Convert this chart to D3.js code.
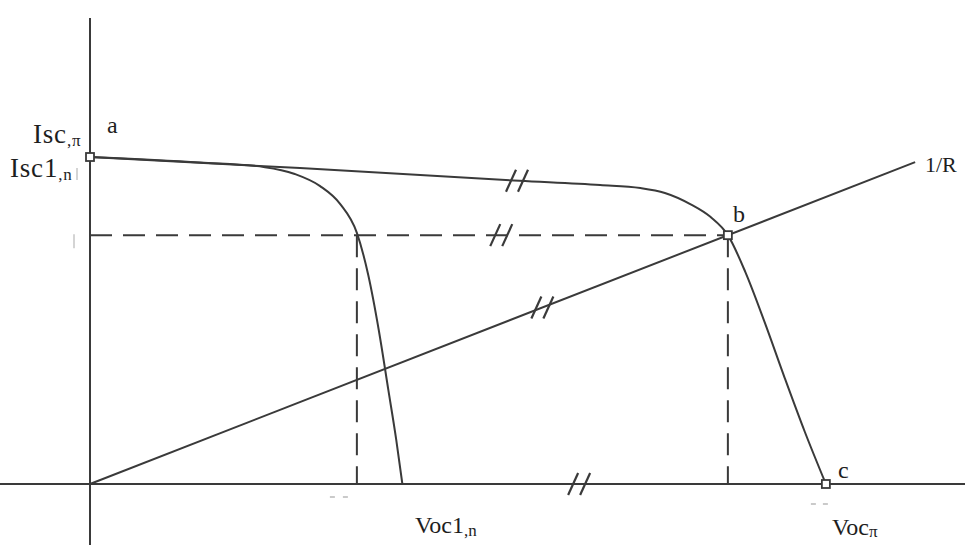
<!DOCTYPE html>
<html>
<head>
<meta charset="utf-8">
<script src="https://cdn.jsdelivr.net/npm/d3@7"></script>
<style>
  html, body { margin: 0; padding: 0; background: #fff; }
  svg { display: block; }
  text { font-family: "Liberation Serif", "DejaVu Serif", serif; fill: #1e1e1e; }
</style>
</head>
<body>
<svg id="chart" width="965" height="545"></svg>
<script>
// I-V curves of a single cell (1,n) and of the whole string (π),
// the 1/R load line, and the operating point b.
const cellCurve = [
  [0, 100], [12.6, 98.3], [20, 96.9], [23.4, 94.8], [26.3, 91.1], [28.6, 85.6],
  [30.5, 76.8], [31.8, 63.9], [33, 47.1], [34.1, 28.7], [35, 13.5], [35.7, 0]
];
const stringCurve = [
  [0, 100], [24, 96.6], [49.1, 92.7], [58.3, 91.4], [62.9, 90.5], [65.7, 89.0],
  [68.6, 85.6], [70.9, 81.7], [72.9, 76.1], [74.9, 64.8], [77.1, 49.5],
  [79.4, 32.4], [81.7, 15.9], [84.1, 0]
];
const pointA = [0, 100];
const pointB = [72.9, 76.1];
const pointC = [84.1, 0];
const cellOperatingV = 30.5;
const loadLineEnd = 94.3;
// Positions (along x) of the "//" break marks on each line
const breaks = { top: 48.8, dashed: 47, load: 51.7, axis: 55.9 };

const svg = d3.select("#chart");
const x = d3.scaleLinear().domain([0, 100]).range([90, 965]);
const y = d3.scaleLinear().domain([0, 100]).range([484, 157]);

const ink = "#3a3a3a";
const faint = "#b8b8b8";
const lineGen = d3.line().x(d => x(d[0])).y(d => y(d[1])).curve(d3.curveMonotoneX);

// axes
svg.append("line")
  .attr("x1", x(0)).attr("x2", x(0))
  .attr("y1", 18).attr("y2", 545)
  .attr("stroke", ink).attr("stroke-width", 2);
svg.append("line")
  .attr("x1", 0).attr("x2", 965)
  .attr("y1", y(0)).attr("y2", y(0))
  .attr("stroke", ink).attr("stroke-width", 2.2);

// light pencil ticks
svg.append("line").attr("x1", 77).attr("x2", 77).attr("y1", 168).attr("y2", 180)
  .attr("stroke", faint).attr("stroke-width", 1.2);
svg.append("line").attr("x1", 74).attr("x2", 74).attr("y1", y(pointB[1]) - 1).attr("y2", y(pointB[1]) + 13)
  .attr("stroke", faint).attr("stroke-width", 1.2);
[[x(cellOperatingV) - 27, 497], [x(cellOperatingV) - 14, 497], [x(pointC[0]) - 15, 504], [x(pointC[0]) - 3, 504]]
  .forEach(([px, py]) => {
    svg.append("line").attr("x1", px).attr("x2", px + 5).attr("y1", py).attr("y2", py)
      .attr("stroke", faint).attr("stroke-width", 1.5);
  });

// dashed guides to the operating point
const dash = "22,11";
svg.append("line")
  .attr("x1", x(0)).attr("x2", x(pointB[0]))
  .attr("y1", y(pointB[1])).attr("y2", y(pointB[1]))
  .attr("stroke", ink).attr("stroke-width", 2).attr("stroke-dasharray", dash);
[cellOperatingV, pointB[0]].forEach(v => {
  svg.append("line")
    .attr("x1", x(v)).attr("x2", x(v))
    .attr("y1", y(pointB[1])).attr("y2", y(0))
    .attr("stroke", ink).attr("stroke-width", 2).attr("stroke-dasharray", dash);
});

// load line 1/R
const loadSlope = pointB[1] / pointB[0];
svg.append("line")
  .attr("x1", x(0)).attr("y1", y(0))
  .attr("x2", x(loadLineEnd)).attr("y2", y(loadLineEnd * loadSlope))
  .attr("stroke", ink).attr("stroke-width", 2);

// I-V curves
svg.append("path").datum(stringCurve).attr("d", lineGen)
  .attr("fill", "none").attr("stroke", ink).attr("stroke-width", 2);
svg.append("path").datum(cellCurve).attr("d", lineGen)
  .attr("fill", "none").attr("stroke", ink).attr("stroke-width", 2);

// break marks "//"
function topLineY(v) {
  const i = d3.bisector(d => d[0]).left(stringCurve, v);
  const a = stringCurve[i - 1], b = stringCurve[i];
  return a[1] + (b[1] - a[1]) * (v - a[0]) / (b[0] - a[0]);
}
function breakMark(px, py) {
  [-6, 6].forEach(off => {
    svg.append("line")
      .attr("x1", px + off - 5).attr("y1", py + 11)
      .attr("x2", px + off + 5).attr("y2", py - 11)
      .attr("stroke", ink).attr("stroke-width", 2.2);
  });
}
breakMark(x(breaks.top), y(topLineY(breaks.top)));
breakMark(x(breaks.dashed), y(pointB[1]));
breakMark(x(breaks.load), y(breaks.load * loadSlope));
breakMark(x(breaks.axis), y(0));

// marker squares
[pointA, pointB, pointC].forEach(p => {
  svg.append("rect")
    .attr("x", x(p[0]) - 4).attr("y", y(p[1]) - 4)
    .attr("width", 8).attr("height", 8)
    .attr("fill", "#fff").attr("stroke", ink).attr("stroke-width", 1.8);
});

// labels
function label(tx, ty, main, sub, size, spacing, subShift) {
  const t = svg.append("text").attr("x", tx).attr("y", ty).attr("font-size", size || 24);
  if (spacing) t.attr("letter-spacing", spacing);
  t.append("tspan").text(main);
  if (sub) t.append("tspan").attr("font-size", 17).attr("dy", subShift == null ? 3 : subShift).text(sub);
  return t;
}
label(33, 143, "Isc", ",π", 27, 0.8);
label(10, 177, "Isc1", ",n", 27, 0.8);
label(107, 133, "a");
label(733, 222, "b");
label(838, 478, "c");
label(925, 172, "1/R", null, 22);
label(415, 533, "Voc1", ",n");
label(832, 535, "Voc", "π", 24, 0, 2);
</script>
</body>
</html>
